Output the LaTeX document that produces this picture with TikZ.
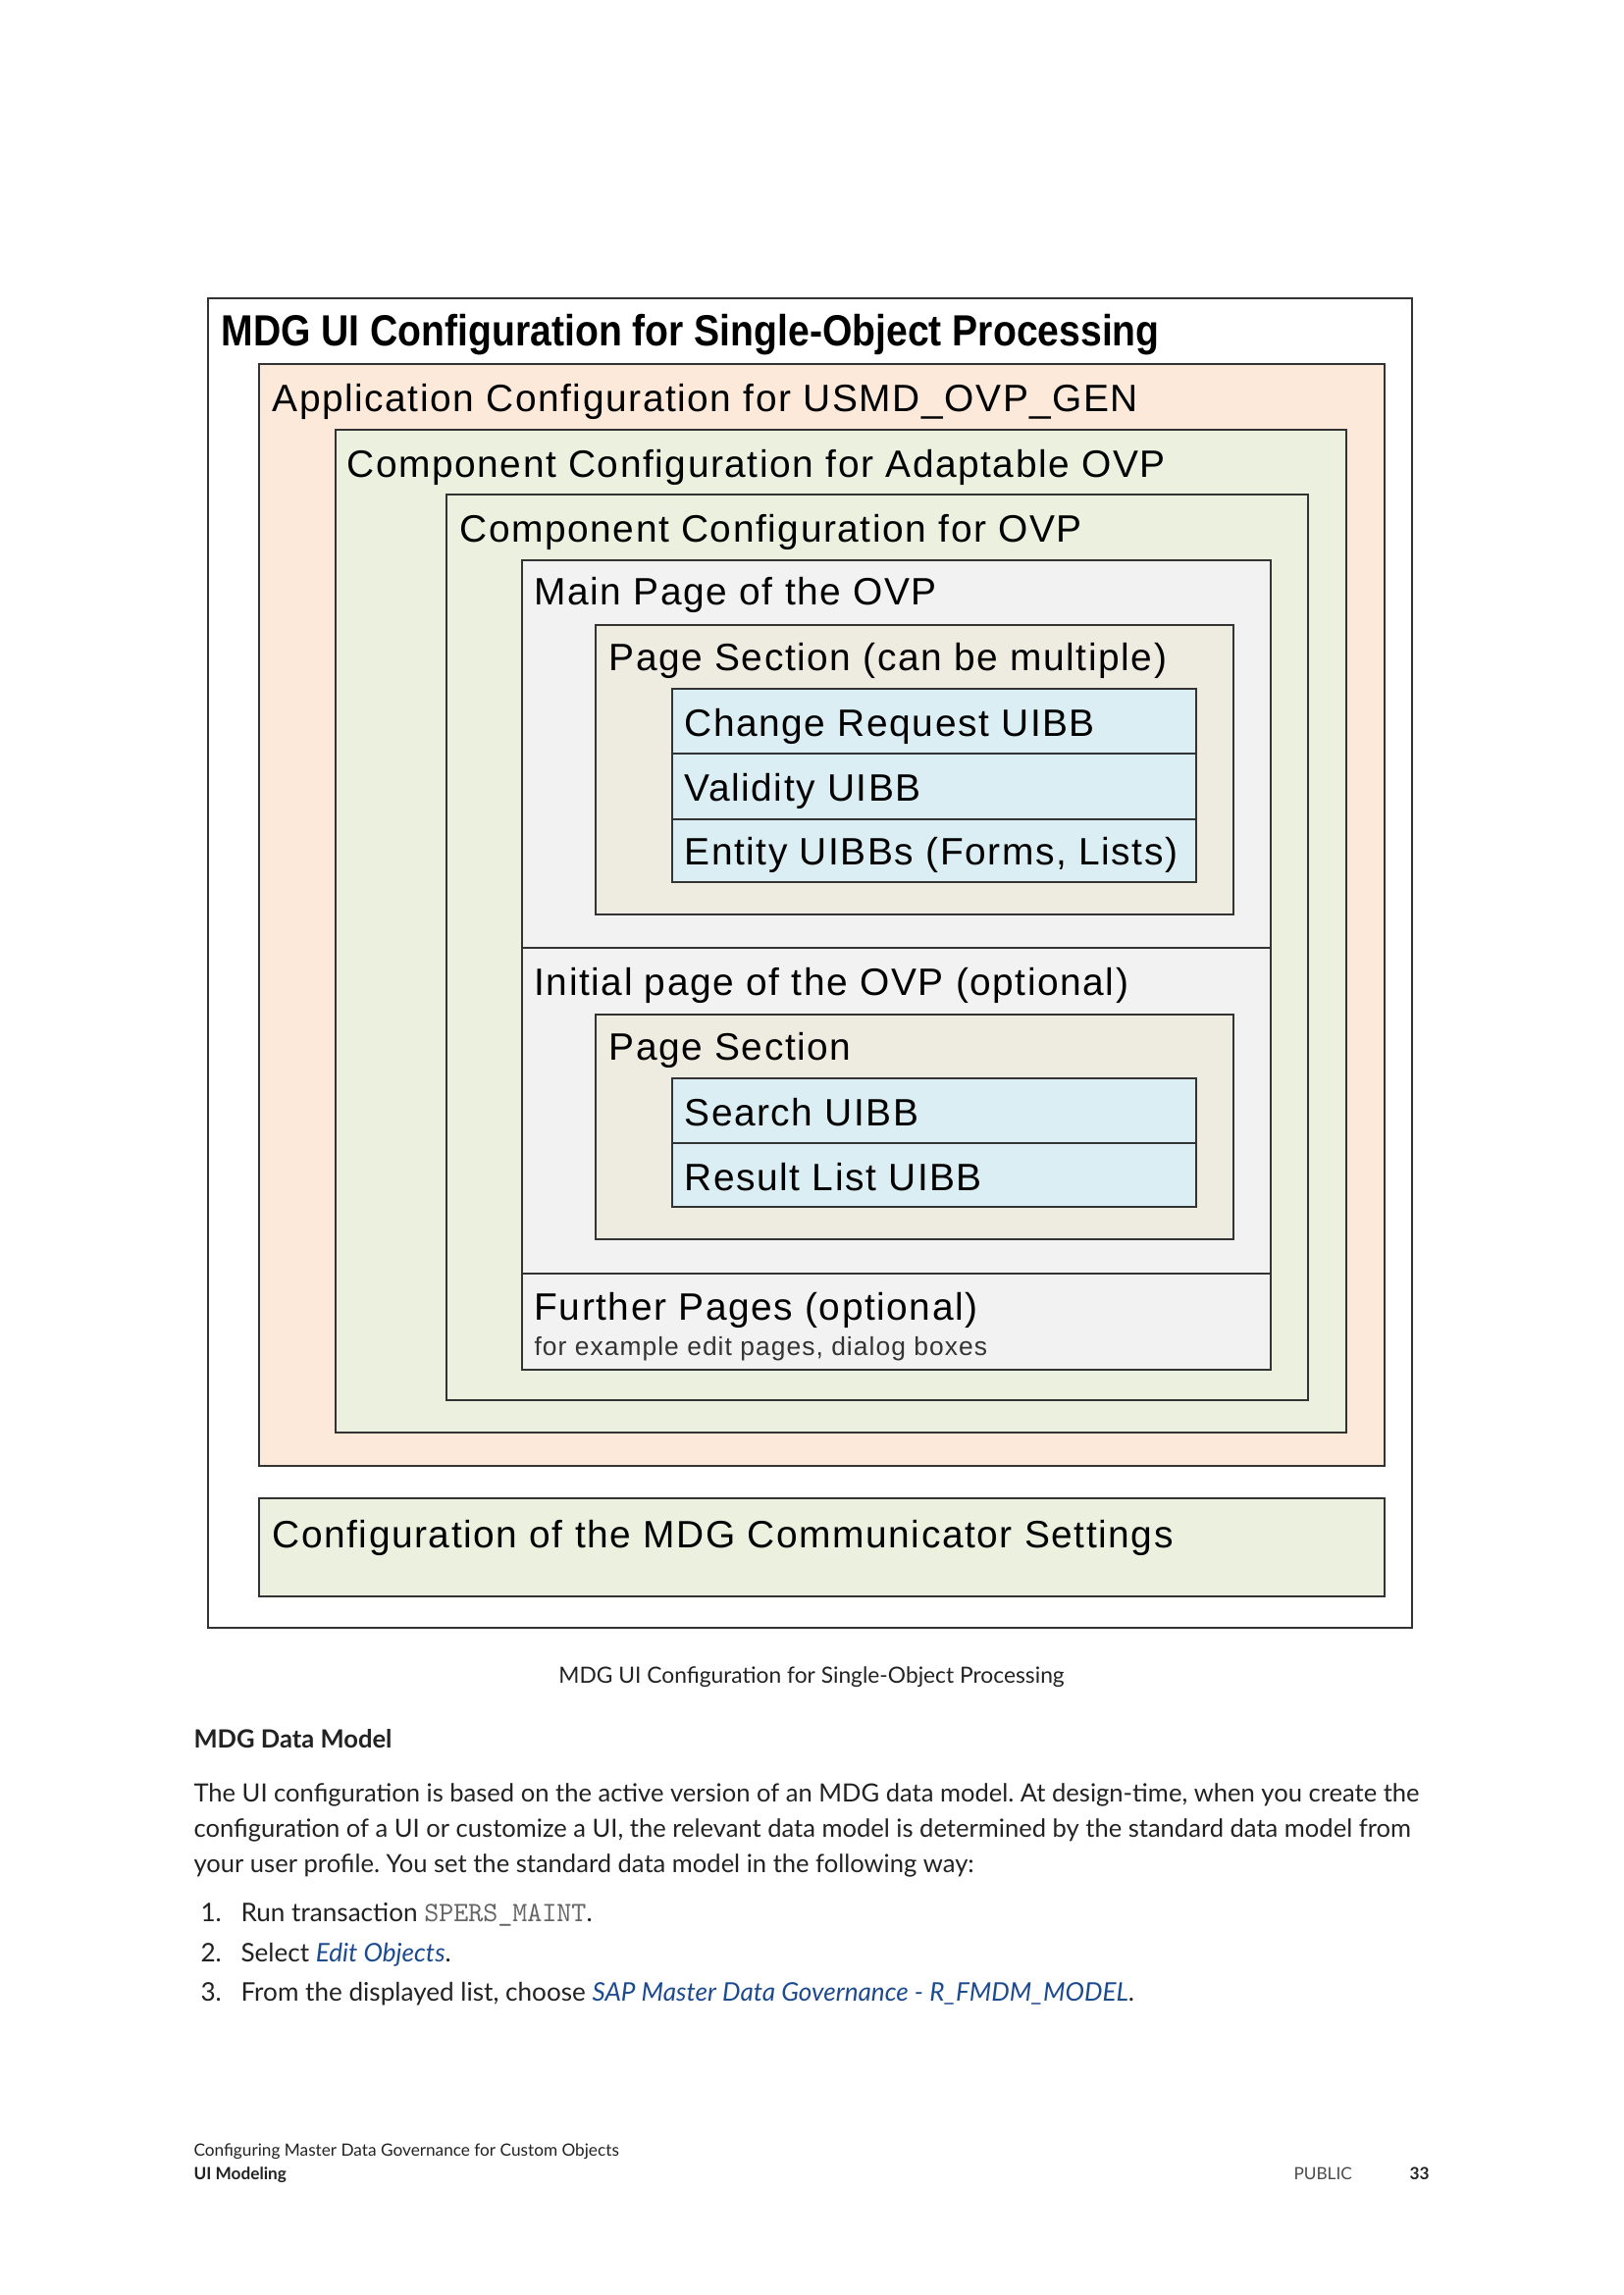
\documentclass[tikz,border=0pt]{standalone}
\usepackage{fontspec}
\setmainfont{Liberation Sans}
\newfontfamily\diagfont{Liberation Sans}[LetterSpace=4]
\newfontfamily\titlefont{Liberation Sans Bold}[FakeStretch=0.88]
\newfontfamily\pagefont{Lato}
\definecolor{apppeach}{HTML}{FDE9D9}
\definecolor{compgreen}{HTML}{EBF1DE}
\definecolor{pagegray}{HTML}{F2F2F2}
\definecolor{secbeige}{HTML}{EEECE1}
\definecolor{uibbblue}{HTML}{DAEEF3}
\definecolor{linkblue}{HTML}{1C4A8F}
\definecolor{edgegray}{HTML}{333333}
\definecolor{inkgray}{HTML}{222222}
\tikzset{
  box/.style={draw=edgegray, line width=0.75pt},
  lbl/.style={anchor=base west, inner sep=0pt, font=\diagfont\fontsize{14}{16}\selectfont},
  txt/.style={anchor=base west, inner sep=0pt, text=inkgray, font=\pagefont\fontsize{9.2}{11}\selectfont},
  item/.style={txt, font=\pagefont\fontsize{9.4}{11}\selectfont},
  foot/.style={txt, font=\pagefont\fontsize{6.2}{8}\selectfont},
}
\frenchspacing

\begin{document}
\begin{tikzpicture}[x=0.36pt, y=-0.36pt]
    \useasboundingbox[fill=white] (0,0) rectangle (1654,2339);

    \draw[box, fill=white] (212,304) rectangle (1439,1659);
    \node[anchor=base west, inner sep=0pt, font=\titlefont\fontsize{16}{18}\selectfont] (title) at (225,352) {MDG UI Configuration for Single-Object Processing};

    \draw[box, fill=apppeach] (264,371) rectangle (1411,1494);
    \node[lbl] (app) at (277,419) {Application Configuration for USMD\_OVP\_GEN};
    \draw[box, fill=compgreen] (342,438) rectangle (1372,1460);
    \node[lbl] (adapt) at (353,486) {Component Configuration for Adaptable OVP};
    \draw[box, fill=compgreen] (455,504) rectangle (1333,1427);
    \node[lbl] (ovp) at (468,552) {Component Configuration for OVP};

    \draw[box, fill=pagegray] (532,571) rectangle (1295,966);
    \node[lbl] (main) at (544,616) {Main Page of the OVP};
    \draw[box, fill=secbeige] (607,637) rectangle (1257,932);
    \node[lbl] (sec1) at (620,683) {Page Section (can be multiple)};
    \draw[box, fill=uibbblue] (685,702) rectangle (1219,768);
    \node[lbl] (cr) at (697,750) {Change Request UIBB};
    \draw[box, fill=uibbblue] (685,768) rectangle (1219,835);
    \node[lbl] (valid) at (697,816) {Validity UIBB};
    \draw[box, fill=uibbblue] (685,835) rectangle (1219,899);
    \node[lbl] (entity) at (697,881) {Entity UIBBs (Forms, Lists)};

    \draw[box, fill=pagegray] (532,966) rectangle (1295,1298);
    \node[lbl] (init) at (544,1014) {Initial page of the OVP (optional)};
    \draw[box, fill=secbeige] (607,1034) rectangle (1257,1263);
    \node[lbl] (sec2) at (620,1080) {Page Section};
    \draw[box, fill=uibbblue] (685,1099) rectangle (1219,1165);
    \node[lbl] (search) at (697,1147) {Search UIBB};
    \draw[box, fill=uibbblue] (685,1165) rectangle (1219,1230);
    \node[lbl] (result) at (697,1213) {Result List UIBB};

    \draw[box, fill=pagegray] (532,1298) rectangle (1295,1396);
    \node[lbl] (further) at (544,1345) {Further Pages (optional)};
    \node[anchor=base west, inner sep=0pt, text=black!80, font=\diagfont\fontsize{9.5}{11}\selectfont] (example) at (544,1381) {for example edit pages, dialog boxes};

    \draw[box, fill=compgreen] (264,1527) rectangle (1411,1627);
    \node[lbl] (comm) at (277,1577) {Configuration of the MDG Communicator Settings};

    \node[anchor=base, inner sep=0pt, text=inkgray, font=\pagefont\fontsize{8.2}{10}\selectfont] (caption) at (827,1715) {MDG UI Configuration for Single-Object Processing};

    \node[txt, font=\pagefont\bfseries\fontsize{9.2}{11}\selectfont] (head) at (197,1781) {MDG Data Model};
    \node[txt] (par1) at (197,1836) {The UI configuration is based on the active version of an MDG data model. At design-time, when you create the};
    \node[txt] (par2) at (197,1872) {configuration of a UI or customize a UI, the relevant data model is determined by the standard data model from};
    \node[txt] (par3) at (197,1908) {your user profile. You set the standard data model in the following way:};

    \node[item] (num1) at (204,1958) {1.};
    \node[item] (item1) at (245,1958) {Run transaction {\ttfamily\fontsize{10.3}{12}\selectfont\color{black!60}SPERS\_MAINT}.};
    \node[item] (num2) at (204,1999) {2.};
    \node[item] (item2) at (245,1999) {Select {\itshape\color{linkblue}Edit Objects}.};
    \node[item] (num3) at (204,2039) {3.};
    \node[item] (item3) at (245,2039) {From the displayed list, choose {\itshape\color{linkblue}SAP Master Data Governance - R\_FMDM\_MODEL}.};

    \node[foot] (foot1) at (197,2197) {Configuring Master Data Governance for Custom Objects};
    \node[foot, font=\pagefont\bfseries\fontsize{6.2}{8}\selectfont] (foot2) at (197,2221) {UI Modeling};
    \node[foot, text=black!70] (public) at (1318,2221) {PUBLIC};
    \node[foot, font=\pagefont\bfseries\fontsize{6.2}{8}\selectfont] (pageno) at (1436,2221) {33};
\end{tikzpicture}
\end{document}
